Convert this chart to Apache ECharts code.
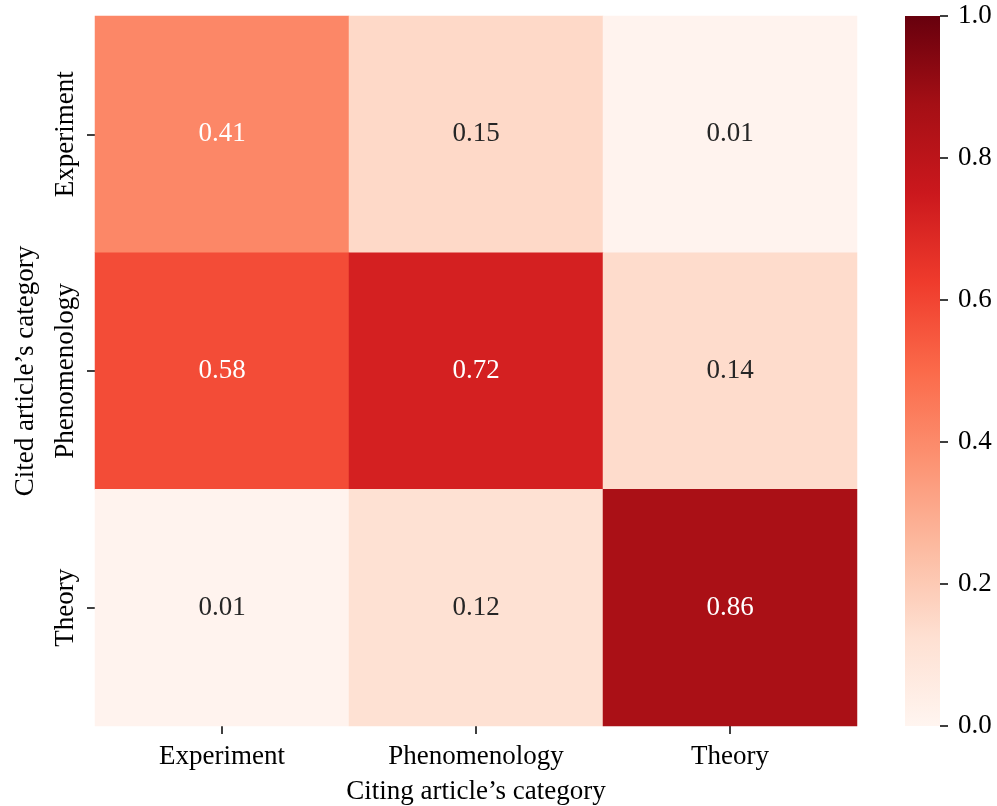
<!DOCTYPE html>
<html>
<head>
<meta charset="utf-8">
<script src="https://cdn.jsdelivr.net/npm/echarts@6/dist/echarts.min.js"></script>
<style>
  html, body { margin: 0; padding: 0; background: #fff; }
  #main { width: 997px; height: 806px; }
</style>
</head>
<body>
<div id="main"></div>
<script>
// categories (same for both axes)
var categories = ['Experiment', 'Phenomenology', 'Theory'];
// rows = cited category, columns = citing category
var rowExperiment = [0.41, 0.15, 0.01];
var rowPhenomenology = [0.58, 0.72, 0.14];
var rowTheory = [0.01, 0.12, 0.86];
var colorbarTicks = [0.0, 0.2, 0.4, 0.6, 0.8, 1.0];
var colorbarRange = [0, 1];

// matplotlib "Reds"
var reds = ['#fff5f0', '#fee0d2', '#fcbba1', '#fc9272', '#fb6a4a', '#ef3b2c', '#cb181d', '#a50f15', '#67000d'];
var fontFamily = '"Liberation Serif", "DejaVu Serif", serif';
var fs = 27;

var rows = [rowExperiment, rowPhenomenology, rowTheory];
var data = [];
rows.forEach(function (row, y) {
  row.forEach(function (v, x) {
    data.push({
      value: [x, y, v],
      label: { color: v > 0.35 ? '#ffffff' : '#262626' }
    });
  });
});

// gradient for the colorbar (bottom = min, top = max)
var gradStops = reds.map(function (c, i) {
  return { offset: i / (reds.length - 1), color: c };
});

var chart = echarts.init(document.getElementById('main'));

chart.setOption({
  animation: false,
  textStyle: { fontFamily: fontFamily },
  grid: [
    { left: 95, top: 16, width: 762, height: 710, containLabel: false, outerBoundsMode: 'none' },
    { left: 905, top: 16, width: 35, height: 710, containLabel: false, outerBoundsMode: 'none' }
  ],
  xAxis: [
    {
      type: 'category',
      data: categories,
      gridIndex: 0,
      name: 'Citing article\u2019s category',
      nameLocation: 'middle',
      nameGap: 52,
      nameTextStyle: { fontFamily: fontFamily, fontSize: fs, color: '#000' },
      axisLine: { show: false },
      axisTick: { show: true, alignWithLabel: true, length: 8, lineStyle: { color: '#000', width: 1.5 } },
      axisLabel: { fontFamily: fontFamily, fontSize: fs, color: '#000', margin: 17 },
      splitLine: { show: false }
    },
    {
      type: 'category',
      data: [''],
      gridIndex: 1,
      show: false
    }
  ],
  yAxis: [
    {
      type: 'category',
      data: categories,
      gridIndex: 0,
      inverse: true,
      name: 'Cited article\u2019s category',
      nameLocation: 'middle',
      nameGap: 56,
      nameTextStyle: { fontFamily: fontFamily, fontSize: fs, color: '#000' },
      axisLine: { show: false },
      axisTick: { show: true, alignWithLabel: true, length: 8, lineStyle: { color: '#000', width: 1.5 } },
      axisLabel: { fontFamily: fontFamily, fontSize: fs, color: '#000', rotate: 90, margin: 16 },
      splitLine: { show: false }
    },
    {
      type: 'value',
      gridIndex: 1,
      position: 'right',
      min: colorbarRange[0],
      max: colorbarRange[1],
      interval: 0.2,
      axisLine: { show: false },
      axisTick: { show: true, length: 8, lineStyle: { color: '#000', width: 1.5 } },
      axisLabel: {
        fontFamily: fontFamily, fontSize: fs, color: '#000', margin: 18,
        formatter: function (v) { return colorbarTicks.indexOf(Math.round(v * 10) / 10) >= 0 ? v.toFixed(1) : ''; }
      },
      splitLine: { show: false }
    }
  ],
  visualMap: {
    type: 'continuous',
    show: false,
    min: colorbarRange[0],
    max: colorbarRange[1],
    seriesIndex: 0,
    inRange: { color: reds }
  },
  series: [
    {
      type: 'heatmap',
      xAxisIndex: 0,
      yAxisIndex: 0,
      data: data,
      label: {
        show: true,
        fontFamily: fontFamily,
        fontSize: fs,
        formatter: function (p) { return p.value[2].toFixed(2); }
      },
      itemStyle: { borderWidth: 0 },
      emphasis: { disabled: true }
    },
    {
      // colorbar
      type: 'bar',
      xAxisIndex: 1,
      yAxisIndex: 1,
      data: [colorbarRange[1]],
      barWidth: '100%',
      silent: true,
      itemStyle: {
        color: { type: 'linear', x: 0, y: 1, x2: 0, y2: 0, colorStops: gradStops }
      }
    }
  ]
});
</script>
</body>
</html>
